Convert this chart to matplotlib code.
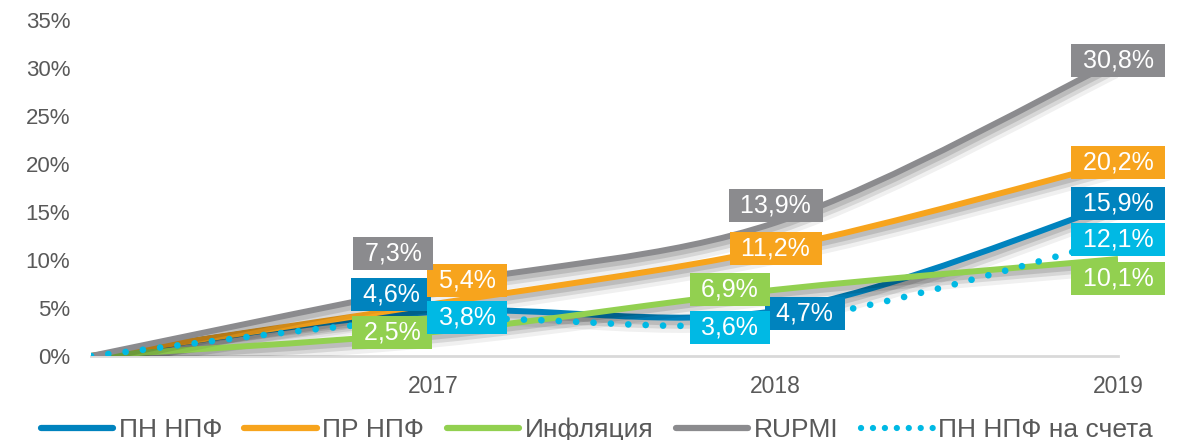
import matplotlib
matplotlib.use("Agg")
import matplotlib.pyplot as plt
import matplotlib.patheffects as pe
from matplotlib.path import Path
from matplotlib.patches import PathPatch
from matplotlib.lines import Line2D
import numpy as np

plt.rcParams['font.family'] = ['Liberation Sans', 'DejaVu Sans']

# ---- data ----
categories = ['', '2017', '2018', '2019']
pn_npf = [0.0, 4.6, 4.7, 15.9]
pr_npf = [0.0, 5.4, 11.2, 20.2]
inflation = [0.0, 2.5, 6.9, 10.1]
rupmi = [0.0, 7.3, 13.9, 30.8]
pn_accounts = [0.0, 3.8, 3.6, 12.1]
series_names = ['ПН НПФ', 'ПР НПФ', 'Инфляция', 'RUPMI', 'ПН НПФ на счета']
yticks = [0, 5, 10, 15, 20, 25, 30, 35]

series = [pn_npf, pr_npf, inflation, rupmi, pn_accounts]
colors = ['#0083BE', '#F7A41D', '#92D050', '#8B8B8E', '#00B9E4']
styles = ['solid', 'solid', 'solid', 'solid', 'dotted']

# label offsets (pixels) per series per point index 1..3
offsets = {
    0: [(-42, 17), (29, -3), (0, 0)],
    1: [(34, 24), (0, 0), (0, 0)],
    2: [(-41, 0), (-46, 0), (0, -19)],
    3: [(-40, 32), (0, 17), (0, 0)],
    4: [(34, 2), (-46, -6), (0, 0)],
}

W, H = 1183, 440
fig = plt.figure(figsize=(W / 100, H / 100), dpi=100)
ax = fig.add_axes([91 / W, (H - 356) / H, (1118 - 91) / W, (356 - 20) / H])
ax.set_xlim(0, 3)
ax.set_ylim(0, 35)

for s in ['top', 'right', 'left']:
    ax.spines[s].set_visible(False)
ax.spines['bottom'].set_color('#D9D9D9')
ax.spines['bottom'].set_linewidth(2)
ax.spines['bottom'].set_zorder(0.5)

ax.set_yticks(yticks)
ax.set_yticklabels([f'{t}%' for t in yticks])
ax.set_xticks(range(len(categories)))
ax.set_xticklabels(categories)
ax.tick_params(axis='y', length=0, pad=15, labelsize=16, labelcolor='#595959')
ax.tick_params(axis='x', length=0, pad=14, labelsize=16.5, labelcolor='#595959')


def smooth_path(xs, ys):
    pts = np.column_stack([xs, ys]).astype(float)
    n = len(pts)
    verts = [pts[0]]
    codes = [Path.MOVETO]
    for i in range(n - 1):
        p0 = pts[i - 1] if i > 0 else pts[i]
        p1 = pts[i]
        p2 = pts[i + 1]
        p3 = pts[i + 2] if i + 2 < n else pts[i + 1]
        c1 = p1 + (p2 - p0) / 6.0
        c2 = p2 - (p3 - p1) / 6.0
        verts += [c1, c2, p2]
        codes += [Path.CURVE4] * 3
    return Path(verts, codes)


shadow = [
    pe.SimpleLineShadow(offset=(2, -5), shadow_color='black', alpha=0.06, linewidth=12),
    pe.SimpleLineShadow(offset=(2, -4), shadow_color='black', alpha=0.10, linewidth=8),
    pe.SimpleLineShadow(offset=(1, -3), shadow_color='black', alpha=0.12, linewidth=5),
    pe.Normal(),
]

xs = np.arange(len(categories))
for k, (vals, col, st) in enumerate(zip(series, colors, styles)):
    path = smooth_path(xs, vals)
    if st == 'dotted':
        patch = PathPatch(path, fill=False, edgecolor=col, linewidth=4.8,
                          linestyle=(0, (0.01, 2.6)), capstyle='round', zorder=3 + k)
    else:
        patch = PathPatch(path, fill=False, edgecolor=col, linewidth=4.3,
                          capstyle='butt', joinstyle='round', zorder=3 + k,
                          path_effects=shadow)
    ax.add_patch(patch)

for k, (vals, col) in enumerate(zip(series, colors)):
    for j in range(1, len(vals)):
        dx, dy = offsets[k][j - 1]
        txt = f' {vals[j]:.1f}% '.replace('.', ',')
        ax.annotate(txt, xy=(xs[j], vals[j]), xytext=(dx, dy), textcoords='offset pixels',
                    ha='center', va='center', fontsize=18, color='white', zorder=20,
                    bbox=dict(boxstyle='square,pad=0.18', fc=col, ec='none'),
                    annotation_clip=False)

handles = []
for col, st, name in zip(colors, styles, series_names):
    if st == 'dotted':
        h = Line2D([], [], color=col, lw=4.5, linestyle=(0, (0.01, 1.9)),
                   dash_capstyle='round', label=name)
    else:
        h = Line2D([], [], color=col, lw=4.5, solid_capstyle='round', label=name)
    handles.append(h)

fig.legend(handles=handles, loc='center', bbox_to_anchor=(597 / W, 10 / H),
           ncol=5, frameon=False, fontsize=19, labelcolor='#595959',
           handlelength=2.75, handletextpad=0.2, columnspacing=0.85,
           borderpad=0, borderaxespad=0)

fig.savefig('out.png', dpi=100)
